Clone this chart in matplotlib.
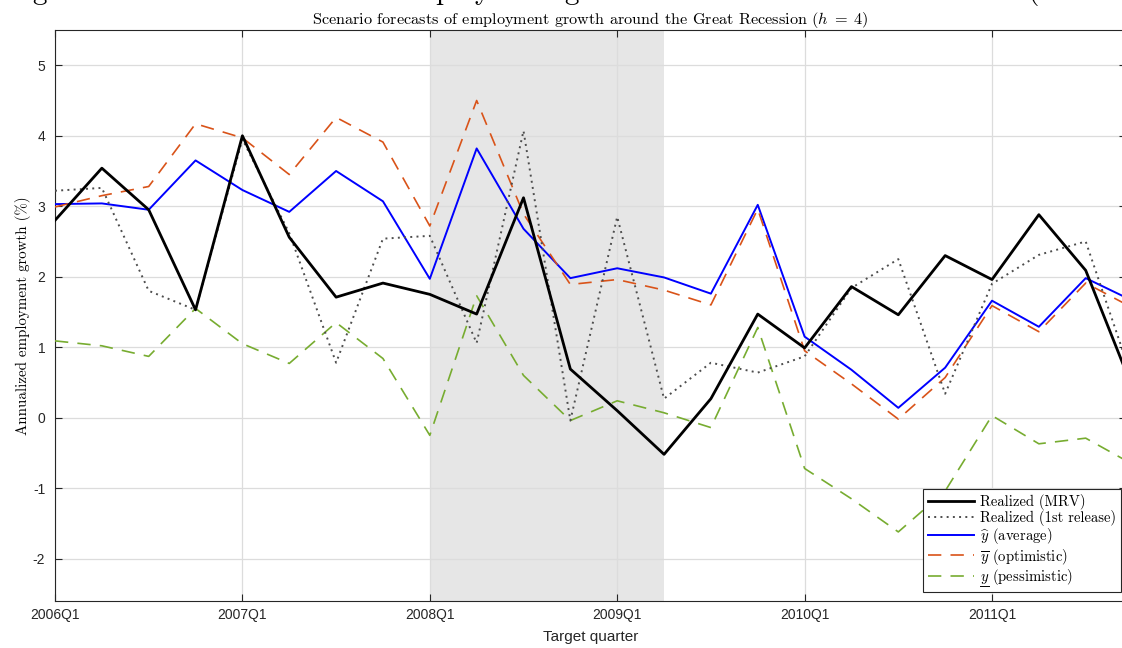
import numpy as np
import matplotlib
matplotlib.use('Agg')
import matplotlib.pyplot as plt
from matplotlib.lines import Line2D
from matplotlib.transforms import IdentityTransform

#-----------------------------------------------------------------------------

# target quarters 2006Q1 .. 2011Q4
quarters = ['%dQ%d' % (yr, q) for yr in range(2006, 2012) for q in range(1, 5)]

# realized employment growth, most recent vintage and first release
realized = [2.80, 3.54, 2.95, 1.53, 4.00, 2.56, 1.71, 1.91, 1.75, 1.47, 3.12, 0.69,
            0.10, -0.52, 0.27, 1.47, 0.99, 1.86, 1.46, 2.30, 1.96, 2.88, 2.09, 0.42]
first_release = [3.22, 3.26, 1.80, 1.53, 3.95, 2.62, 0.78, 2.54, 2.58, 1.06, 4.07, -0.04,
                 2.85, 0.27, 0.78, 0.64, 0.87, 1.84, 2.25, 0.34, 1.90, 2.31, 2.50, 0.54]

# scenario forecasts, h = 4
average = [3.03, 3.04, 2.95, 3.65, 3.23, 2.92, 3.50, 3.07, 1.97, 3.82, 2.68, 1.98,
           2.12, 1.99, 1.76, 3.02, 1.15, 0.68, 0.14, 0.71, 1.66, 1.29, 1.98, 1.66]
optimistic = [2.99, 3.15, 3.28, 4.17, 3.97, 3.45, 4.26, 3.91, 2.72, 4.50, 2.89, 1.89,
              1.96, 1.81, 1.60, 2.96, 0.95, 0.48, -0.02, 0.57, 1.59, 1.22, 1.91, 1.56]
pessimistic = [1.09, 1.02, 0.87, 1.55, 1.05, 0.77, 1.35, 0.84, -0.25, 1.73, 0.60, -0.04,
               0.24, 0.07, -0.14, 1.28, -0.72, -1.15, -1.62, -1.04, 0.03, -0.37, -0.29, -0.66]

recession = ('2008Q1', '2009Q2')

#-----------------------------------------------------------------------------

plt.rcParams['mathtext.fontset'] = 'cm'
plt.rcParams['axes.unicode_minus'] = False
serif = 'cmr10'
sans = 'Liberation Sans'

fig = plt.figure(figsize=(11.22, 6.48), dpi=100)
# the axes run a little past the right edge of the page
ax = fig.add_axes([55/1122, 47/648, 1071/1122, 571/648])

t = np.arange(len(quarters))

ax.axvspan(quarters.index(recession[0]), quarters.index(recession[1]),
           color='#e6e6e6', lw=0, zorder=0.2)

ax.plot(t, realized, color='k', lw=2.0, label='Realized (MRV)', zorder=5)
ax.plot(t, first_release, color='#4d4d4d', lw=1.4, ls=(0, (1, 2.2)),
        label='Realized (1st release)', zorder=4)
ax.plot(t, average, color='#0000ff', lw=1.4, label=r'$\widehat{y}$ (average)', zorder=3)
ax.plot(t, optimistic, color='#D95319', lw=1.2, ls=(0, (8, 5.5)),
        label=r'$\overline{y}$ (optimistic)', zorder=3)
# mathtext has no \underline, the bar under y is added after layout
ax.plot(t, pessimistic, color='#77AC30', lw=1.2, ls=(0, (8, 5.5)),
        label=r'$y$ (pessimistic)', zorder=3)

ax.set_xlim(0, 22.86)
ax.set_ylim(-2.6, 5.5)

ax.set_xticks(t[::4])
ax.set_xticklabels(quarters[::4], fontfamily=sans, fontsize=10, color='#262626')
ax.set_yticks(range(-2, 6))
ax.set_yticklabels([str(v) for v in range(-2, 6)], fontfamily=sans, fontsize=10,
                   color='#262626')

ax.set_axisbelow(True)
ax.grid(True, color='#dcdcdc', lw=0.9)
ax.tick_params(direction='in', length=5, width=0.8, color='#262626',
               top=True, right=True)
ax.tick_params(axis='y', pad=7)
ax.tick_params(axis='x', pad=5)
for s in ax.spines.values():
    s.set_color('#262626')
    s.set_linewidth(0.8)

ax.set_xlabel('Target quarter', fontfamily=sans, fontsize=11, color='#262626',
              labelpad=6)
ax.set_ylabel('Annualized employment growth (%)', fontfamily=serif, fontsize=10.8,
              labelpad=1)
ax.set_title(r'Scenario forecasts of employment growth around the Great Recession ($h\;=\;4$)',
             fontfamily=serif, fontsize=11.7, pad=4)

fig.text(5/1122, 1 + 1/648,
         r'Figure 3: Scenario forecasts of employment growth around the Great Recession ($h\;\;=\;\;4$)',
         fontfamily=serif, fontsize=21, va='baseline', ha='left')

leg = ax.legend(loc='lower right', bbox_to_anchor=(1066/1071, 9/571),
                prop={'family': serif, 'size': 10.6},
                fancybox=False, framealpha=1, edgecolor='#262626',
                handlelength=3.1, handletextpad=0.4, labelspacing=0.02,
                borderaxespad=0, borderpad=0.35)
leg.get_frame().set_linewidth(0.8)

# underline the y of the pessimistic entry
fig.canvas.draw()
r = fig.canvas.get_renderer()
txt = leg.get_texts()[4]
bb = txt.get_window_extent(r)
probe = fig.text(0, 0, r'$y$', fontfamily=serif, fontsize=10.6)
yw = probe.get_window_extent(r).width
probe.remove()
fig.add_artist(Line2D([bb.x0, bb.x0 + yw], [bb.y0 + 0.5, bb.y0 + 0.5], color='k',
                      lw=0.7, transform=IdentityTransform(), zorder=10))

fig.savefig('out.png', dpi=100)
